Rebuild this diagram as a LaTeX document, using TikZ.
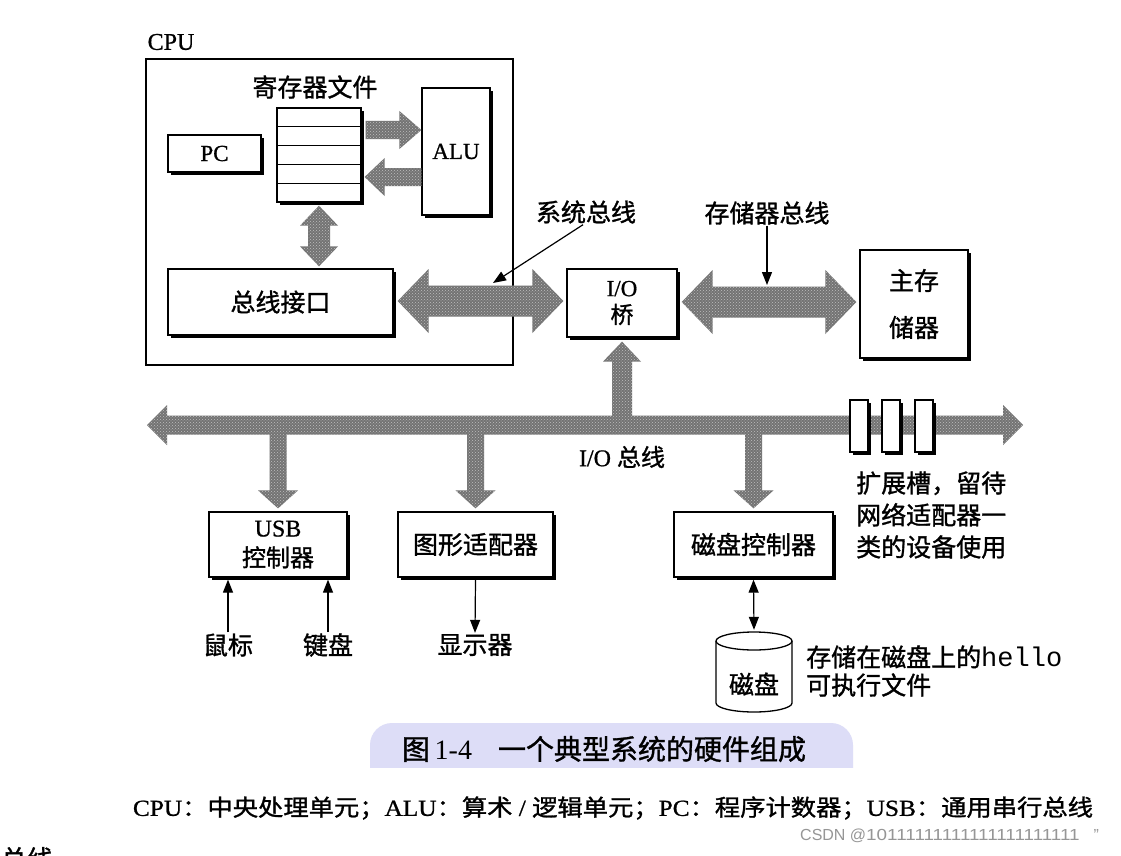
\documentclass[tikz,border=0pt]{standalone}
\usepackage{fontspec}
\setmainfont{Liberation Serif}
\setsansfont{Liberation Sans}
\setmonofont{Liberation Mono}
\newfontfamily\cjk[FakeBold=1.2]{Noto Sans CJK SC}
\newfontfamily\latb[FakeBold=0.8]{Liberation Serif}
\usetikzlibrary{calc,shadows,patterns,arrows.meta}
\definecolor{capbg}{RGB}{221,221,247}
\definecolor{wmark}{RGB}{150,150,150}
\newcommand\zhf{\fontsize{25}{30}\selectfont\cjk}
\newcommand\latf{\fontsize{23}{27}\selectfont\latb}
% single block arrow: tail, tip, shaft half width, head half width, head length
\newcommand\blockarrow[5]{%
  \coordinate (hb) at ($(#2)!#5!(#1)$);
  \fill[blk] ($(#1)!#3!90:(#2)$) -- ($(hb)!#3!90:(#2)$) -- ($(hb)!#4!90:(#2)$) -- (#2)
    -- ($(hb)!#4!-90:(#2)$) -- ($(hb)!#3!-90:(#2)$) -- ($(#1)!#3!-90:(#2)$) -- cycle;}
% double block arrow
\newcommand\dblockarrow[5]{%
  \coordinate (hba) at ($(#1)!#5!(#2)$);
  \coordinate (hbb) at ($(#2)!#5!(#1)$);
  \fill[blk] (#1) -- ($(hba)!#4!90:(#2)$) -- ($(hba)!#3!90:(#2)$) -- ($(hbb)!#3!90:(#2)$)
    -- ($(hbb)!#4!90:(#2)$) -- (#2) -- ($(hbb)!#4!-90:(#2)$) -- ($(hbb)!#3!-90:(#2)$)
    -- ($(hba)!#3!-90:(#2)$) -- ($(hba)!#4!-90:(#2)$) -- cycle;}
\begin{document}
\begin{tikzpicture}[x=1pt,y=-1pt,
  box/.style={draw, line width=1.3pt, fill=white, inner sep=0pt,
    drop shadow={shadow xshift=3pt, shadow yshift=-3pt, opacity=1, fill=black}},
  blk/.style={preaction={fill=black!55}, pattern=crosshatch dots, pattern color=white!75!black},
  zh/.style={font=\zhf, inner sep=1pt},
  thinarr/.style={line width=1.2pt, -{Triangle[length=13pt,width=10pt]}},
  thinarrd/.style={line width=1.2pt, {Triangle[length=13pt,width=10pt]}-{Triangle[length=13pt,width=10pt]}}]
\useasboundingbox (0,0) rectangle (1121,856);
\fill[white] (0,0) rectangle (1121,856);

% ---------- CPU ----------
\node[draw, line width=2.6pt, minimum width=367pt, minimum height=306pt, inner sep=0pt] (cpu) at (329.5,212) {};
\node[font=\fontsize{24}{26}\selectfont\latb, inner sep=0pt] (cpulbl) at (171,42) {CPU};
\node[box, minimum width=84pt, minimum height=94pt] (reg) at (319,155) {};
\foreach \i in {1,...,4}
  \draw[line width=1.1pt] ($(reg.north west)!\i/5!(reg.south west)$) -- ($(reg.north east)!\i/5!(reg.south east)$);
\node[zh] (reglbl) at (315,87) {寄存器文件};
\node[box, minimum width=93pt, minimum height=37pt, font=\latf] (pc) at (214.5,153.5) {PC};
\node[box, minimum width=68pt, minimum height=127pt, font=\latf] (alu) at (456,151.5) {ALU};
\node[box, minimum width=225pt, minimum height=66pt, font=\zhf] (bi) at (280.5,302) {总线接口};

% register <-> ALU
\coordinate (a1t) at ($(reg.east)+(4,-25)$);
\coordinate (a1h) at (alu.west |- a1t);
\blockarrow{a1t}{a1h}{9pt}{19pt}{22pt}
\coordinate (a2t) at ($(alu.west)+(0,25.5)$);
\coordinate (a2h) at (reg.east |- a2t);
\coordinate (a2hh) at ($(a2h)+(3,0)$);
\blockarrow{a2t}{a2hh}{9pt}{19pt}{20pt}
% register <-> bus interface
\coordinate (rb1) at ($(reg.south)+(0,3)$);
\coordinate (rb2) at ($(reg.south |- bi.north)+(0,-2)$);
\dblockarrow{rb1}{rb2}{11pt}{19pt}{20pt}

% ---------- bridge, memory ----------
\node[box, minimum width=110pt, minimum height=68pt, align=center, font=\fontsize{23}{27}\selectfont] (bridge) at (622,303)
  {{\latb I/O}\\{\cjk 桥}};
\node[box, minimum width=108pt, minimum height=108pt, align=center, font=\fontsize{25}{47}\selectfont\cjk] (mem) at (914,304)
  {主存\\储器};

\coordinate (sb1) at ($(bi.east)+(4,-1)$);
\coordinate (sb2) at ($(bridge.west |- sb1)+(-3,0)$);
\dblockarrow{sb1}{sb2}{15.5pt}{32pt}{31pt}
\coordinate (mb1) at ($(bridge.east)+(4,-1)$);
\coordinate (mb2) at ($(mem.west |- mb1)+(-3,0)$);
\dblockarrow{mb1}{mb2}{15.5pt}{32pt}{31pt}

\node[zh] (sblbl) at (586,212) {系统总线};
\coordinate (sbpt) at (493,283);
\draw[thinarr] ($(sblbl.south)+(-3,0)$) -- (sbpt);
\node[zh] (mblbl) at (767,213) {存储器总线};
\coordinate (mbpt) at (767,285);
\draw[thinarr] (mblbl.south) -- (mbpt);

% ---------- I/O bus ----------
\coordinate (iob1) at (147,425);
\coordinate (iob2) at (1023,425);
\node[box, minimum width=138pt, minimum height=65pt, align=center, font=\fontsize{24}{30}\selectfont] (usb) at (278,544.5)
  {{\latb USB}\\{\cjk 控制器}};
\node[box, minimum width=155pt, minimum height=65pt, font=\zhf] (gfx) at (475.5,544.5) {图形适配器};
\node[box, minimum width=159pt, minimum height=65pt, font=\zhf] (dc) at (753.5,544.5) {磁盘控制器};

\dblockarrow{iob1}{iob2}{9.5pt}{20pt}{20pt}
\coordinate (brt) at (bridge.south |- iob1);
\coordinate (brh) at ($(bridge.south)+(0,4)$);
\blockarrow{brt}{brh}{10pt}{19pt}{20pt}
\coordinate (ut) at (usb.north |- iob1);
\coordinate (uh) at ($(usb.north)+(0,-3)$);
\blockarrow{ut}{uh}{8.5pt}{20pt}{18pt}
\coordinate (gt) at (gfx.north |- iob1);
\coordinate (gh) at ($(gfx.north)+(0,-3)$);
\blockarrow{gt}{gh}{8.5pt}{20pt}{18pt}
\coordinate (dt) at (dc.north |- iob1);
\coordinate (dh) at ($(dc.north)+(0,-3)$);
\blockarrow{dt}{dh}{8.5pt}{20pt}{18pt}

% expansion slots
\node[box, line width=1.1pt, minimum width=18pt, minimum height=52pt] (s1) at (859,426) {};
\node[box, line width=1.1pt, minimum width=18pt, minimum height=52pt] (s2) at (891,426) {};
\node[box, line width=1.1pt, minimum width=18pt, minimum height=52pt] (s3) at (924,426) {};

\node[font=\fontsize{24}{26}\selectfont, inner sep=0pt] (ioblbl) at (622,457) {{\latb I/O} {\cjk 总线}};
\node[zh, anchor=west, align=left, font=\fontsize{25}{32}\selectfont\cjk] (slotlbl) at (855,515)
  {扩展槽，留待\\网络适配器一\\类的设备使用};

% ---------- devices ----------
\node[zh] (mouse) at (228,645) {鼠标};
\node[zh] (kbd) at (328,645) {键盘};
\node[zh] (disp) at (475,645) {显示器};
\draw[thinarr] (mouse.north) -- ($(mouse.north |- usb.south)+(0,2)$);
\draw[thinarr] (kbd.north) -- ($(kbd.north |- usb.south)+(0,2)$);
\draw[thinarr] ($(gfx.south)+(0,2)$) -- (disp.north);

\node[inner sep=0pt, minimum width=76pt, minimum height=80pt] (disk) at (754,672) {};
\draw[line width=1.3pt] (716,641) -- (716,703) arc[start angle=180, end angle=360, x radius=38pt, y radius=9pt] -- (792,641);
\draw[line width=1.3pt] (754,641) ellipse [x radius=38pt, y radius=9pt];
\node[zh] (disktxt) at (754,684) {磁盘};
\draw[thinarrd] ($(dc.south)+(0,2)$) -- ($(disk.north)+(0,-2)$);
\node[anchor=west, align=left, font=\fontsize{25}{28}\selectfont\cjk, inner sep=0pt] (hellolbl) at (806,671)
  {存储在磁盘上的{\fontsize{27}{28}\selectfont\ttfamily hello}\\可执行文件};

% ---------- caption ----------
\begin{scope}
  \clip (360,715) rectangle (860,767);
  \fill[capbg, rounded corners=22pt] (370,723) rectangle (853,790);
\end{scope}
\node[font=\fontsize{28}{30}\selectfont, inner sep=0pt] (caption) at (604,749)
  {{\cjk 图}\,{\rmfamily 1-4}\hspace{26pt}{\cjk 一个典型系统的硬件组成}};

\node[font=\fontsize{23}{26}\selectfont, inner sep=0pt] (foot) at (613,808)
  {\scalebox{1.1}[1]{{\latb CPU}{\cjk ：中央处理单元；}{\latb ALU}{\cjk ：算术}{\latb\ /\ }{\cjk 逻辑单元；}{\latb PC}{\cjk ：程序计数器；}{\latb USB}{\cjk ：通用串行总线}}};

\node[anchor=west, font=\fontsize{16}{18}\selectfont\sffamily, text=wmark, inner sep=0pt] (wm) at (800,836)
  {CSDN @\scalebox{1.18}[1]{10111111111111111111111}\hspace{14pt}"};

\begin{scope}
  \clip (0,0) rectangle (1121,856);
  \node[font=\fontsize{26}{28}\selectfont\cjk, inner sep=0pt] (partial) at (27,859) {总线};
\end{scope}
\end{tikzpicture}
\end{document}
